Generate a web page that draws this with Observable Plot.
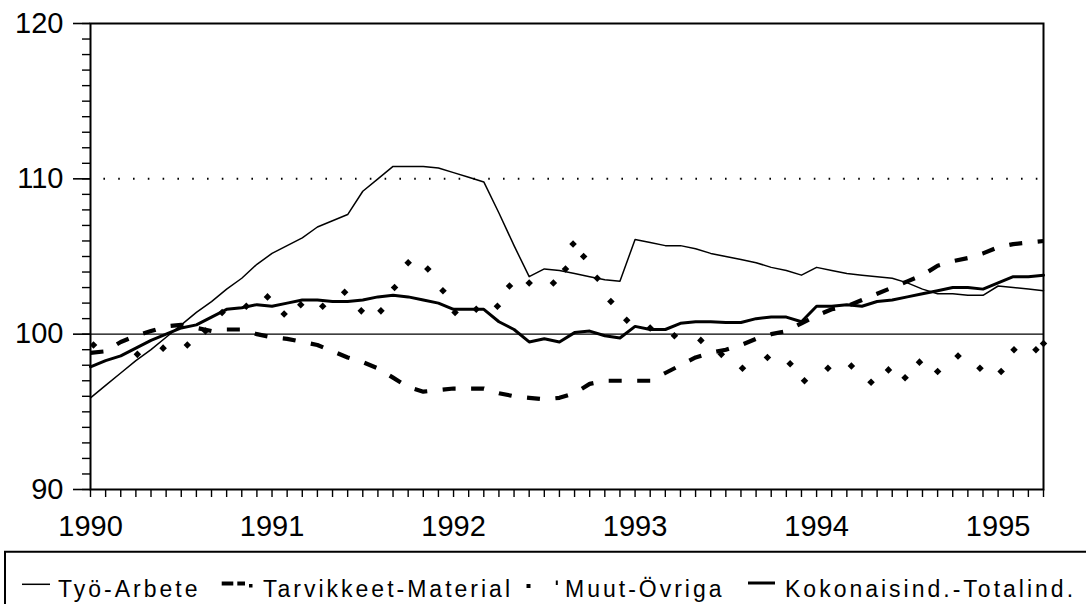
<!DOCTYPE html>
<html>
<head>
<meta charset="utf-8">
<script src="https://cdn.jsdelivr.net/npm/d3@7"></script>
<script src="https://cdn.jsdelivr.net/npm/@observablehq/plot@0.6"></script>
<style>
  html, body { margin: 0; padding: 0; background: #fff; }
  #wrap { position: relative; width: 1086px; height: 604px; overflow: hidden; font-family: "Liberation Sans", Arial, Helvetica, sans-serif; }
  #chart { position: absolute; left: 0; top: 0; }
  #chart text { font-size: 29px; }
  #legend { position: absolute; left: 0; top: 548px; }
</style>
</head>
<body>
<div id="wrap">
  <div id="chart"></div>
  <svg id="legend" width="1086" height="56"></svg>
</div>
<script>
// Month index 0 = January 1990
const yearTicks = [0, 12, 24, 36, 48, 60];
const yearLabels = ["1990", "1991", "1992", "1993", "1994", "1995"];
const yTickValues = [90, 100, 110, 120];

const seriesNames = ["Työ-Arbete", "Tarvikkeet-Material", "Muut-Övriga", "Kokonaisind.-Totalind."];

const tyo = [95.9, 96.7, 97.5, 98.3, 99.0, 99.8, 100.6, 101.4, 102.1, 102.9,
  103.6, 104.5, 105.2, 105.7, 106.2, 106.9, 107.3, 107.7, 109.2, 110.0,
  110.8, 110.8, 110.8, 110.7, 110.4, 110.1, 109.8, 107.8, 105.7, 103.7,
  104.2, 104.1, 103.9, 103.7, 103.5, 103.4, 106.1, 105.9, 105.7, 105.7,
  105.5, 105.2, 105.0, 104.8, 104.6, 104.3, 104.1, 103.8, 104.3, 104.1,
  103.9, 103.8, 103.7, 103.6, 103.3, 102.9, 102.6, 102.6, 102.5, 102.5,
  103.1, 103.0, 102.9, 102.8];

const tarvikkeet = [98.8, 98.9, 99.5, 99.9, 100.2, 100.5, 100.6, 100.4, 100.2, 100.3,
  100.3, 100.0, 99.8, 99.7, 99.5, 99.3, 98.9, 98.5, 98.2, 97.8,
  97.2, 96.6, 96.3, 96.4, 96.5, 96.5, 96.5, 96.2, 96.0, 95.9,
  95.8, 95.9, 96.2, 96.8, 97.0, 97.0, 97.0, 97.0, 97.5, 98.0,
  98.5, 98.8, 99.0, 99.3, 99.7, 100.0, 100.2, 100.7, 101.2, 101.6,
  101.8, 102.2, 102.6, 103.0, 103.4, 103.8, 104.4, 104.7, 104.9, 105.2,
  105.6, 105.8, 105.9, 106.0];

const kokonais = [97.9, 98.3, 98.6, 99.1, 99.6, 100.0, 100.4, 100.6, 101.1, 101.6,
  101.7, 101.9, 101.8, 102.0, 102.2, 102.2, 102.1, 102.1, 102.2, 102.4,
  102.5, 102.4, 102.2, 102.0, 101.6, 101.6, 101.6, 100.8, 100.3, 99.5,
  99.7, 99.5, 100.1, 100.2, 99.9, 99.75, 100.5, 100.3, 100.3, 100.7,
  100.8, 100.8, 100.75, 100.75, 101.0, 101.1, 101.1, 100.8, 101.8, 101.8,
  101.9, 101.8, 102.1, 102.2, 102.4, 102.6, 102.8, 103.0, 103.0, 102.9,
  103.3, 103.7, 103.7, 103.8];

// Muut-Övriga is drawn as a dotted line: positions (month index) and values of its dots
const muutMonth = [0.2, 3.1, 4.8, 6.4, 7.6, 8.7, 10.3, 11.7, 12.8, 13.9,
  15.35, 16.8, 17.9, 19.2, 20.1, 21.0, 22.3, 23.3, 24.1, 25.5,
  26.9, 27.7, 29.0, 30.6, 31.4, 31.9, 32.6, 33.5, 34.4, 35.45,
  37.0, 38.6, 40.35, 41.7, 43.1, 44.75, 46.25, 47.2, 48.75, 50.3,
  51.6, 52.75, 53.85, 54.8, 56.0, 57.35, 58.8, 60.2, 61.05, 62.5, 63.0];
const muut = [99.3, 98.7, 99.1, 99.3, 100.2, 101.4, 101.8, 102.4, 101.3, 101.9,
  101.8, 102.7, 101.5, 101.5, 103.0, 104.6, 104.2, 102.8, 101.4, 101.6,
  101.8, 103.1, 103.3, 103.3, 104.2, 105.8, 105.0, 103.6, 102.1, 100.9,
  100.4, 99.9, 99.6, 98.7, 97.8, 98.5, 98.1, 97.0, 97.8, 97.95,
  96.9, 97.7, 97.2, 98.2, 97.6, 98.6, 97.8, 97.6, 99.0, 99.0, 99.4];

const muutPts = muutMonth.map((m, i) => ({m, v: muut[i]}));
const monthTicks = d3.range(0, tyo.length);
const minorY = d3.range(90, 121);

const chart = Plot.plot({
  width: 1086,
  height: 545,
  marginLeft: 90,
  marginRight: 43,
  marginTop: 23,
  marginBottom: 56,
  style: { fontFamily: '"Liberation Sans", Arial, Helvetica, sans-serif', fontSize: "29px", background: "#fff", color: "#000" },
  x: { domain: [0, tyo.length - 1] },
  y: { domain: [90, 120] },
  marks: [
    Plot.ruleY([110], { stroke: "#000", strokeWidth: 2, strokeDasharray: "1.6 13.2", strokeDashoffset: 1.4 }),
    Plot.ruleY([100], { stroke: "#000", strokeWidth: 1.4 }),
    Plot.axisY({ ticks: minorY, tickSize: 8, tickFormat: () => "", label: null, strokeWidth: 1.4 }),
    Plot.axisY({ ticks: yTickValues, tickSize: 17, tickPadding: 10, fontSize: 29, tickFormat: d => String(d), label: null, strokeWidth: 1.6 }),
    Plot.axisX({ ticks: monthTicks, tickSize: 8, tickFormat: () => "", label: null, strokeWidth: 1.4 }),
    Plot.axisX({ ticks: yearTicks, tickSize: 0, tickPadding: 26, fontSize: 29, tickFormat: d => yearLabels[yearTicks.indexOf(d)], label: null }),
    Plot.lineY(tyo, { stroke: "#000", strokeWidth: 1.5 }),
    Plot.lineY(tarvikkeet, { stroke: "#000", strokeWidth: 4.2, strokeDasharray: "13 15.5", strokeLinecap: "butt" }),
    Plot.lineY(kokonais, { stroke: "#000", strokeWidth: 3 }),
    Plot.dot(muutPts, { x: "m", y: "v", symbol: "diamond2", r: 3.4, fill: "#000", stroke: "none" }),
    Plot.frame({ stroke: "#000", strokeWidth: 2 })
  ]
});
document.getElementById("chart").appendChild(chart);

// Legend
const lg = d3.select("#legend");
lg.append("path").attr("d", "M5,60 V3.7 H1090").attr("fill", "none").attr("stroke", "#000").attr("stroke-width", 2);
const textX = [58, 263, 565, 785];
const tg = lg.append("g")
  .attr("font-family", '"Liberation Sans", Arial, Helvetica, sans-serif')
  .attr("font-size", 23)
  .attr("letter-spacing", 3)
  .attr("fill", "#000");
seriesNames.forEach((name, i) => {
  tg.append("text").attr("x", textX[i]).attr("y", 48.7).text(name);
});
// symbols
lg.append("line").attr("x1", 22).attr("x2", 50).attr("y1", 36.3).attr("y2", 36.3).attr("stroke", "#000").attr("stroke-width", 1.5);
lg.append("line").attr("x1", 221.7).attr("x2", 233.3).attr("y1", 35.5).attr("y2", 35.5).attr("stroke", "#000").attr("stroke-width", 4);
lg.append("line").attr("x1", 237.3).attr("x2", 245).attr("y1", 35.5).attr("y2", 35.5).attr("stroke", "#000").attr("stroke-width", 4);
lg.append("rect").attr("x", 249).attr("y", 36).attr("width", 3.5).attr("height", 3.5).attr("fill", "#000");
lg.append("rect").attr("x", 526.5).attr("y", 36).attr("width", 4).attr("height", 4).attr("fill", "#000");
lg.append("rect").attr("x", 555.8).attr("y", 32.5).attr("width", 2).attr("height", 4.5).attr("fill", "#000");
lg.append("line").attr("x1", 748).attr("x2", 775).attr("y1", 35).attr("y2", 35).attr("stroke", "#000").attr("stroke-width", 3);
</script>
</body>
</html>
